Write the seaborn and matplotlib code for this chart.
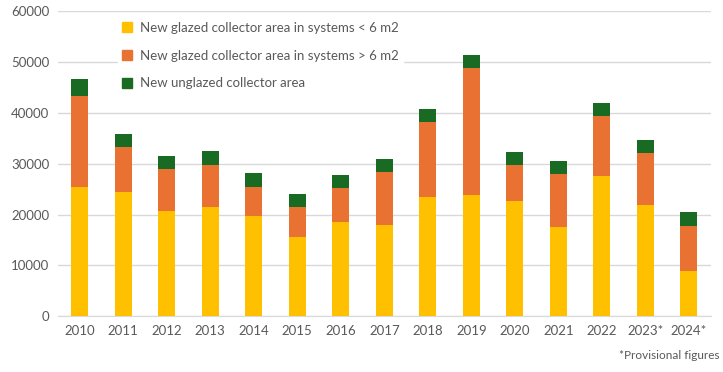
import seaborn as sns
import pandas as pd
import matplotlib.pyplot as plt
from matplotlib.patches import Patch

years = ["2010", "2011", "2012", "2013", "2014", "2015", "2016", "2017",
         "2018", "2019", "2020", "2021", "2022", "2023*", "2024*"]
small_glazed = [25400, 24400, 20700, 21400, 19700, 15500, 18500, 17900,
                23400, 23800, 22600, 17500, 27500, 21800, 8900]
large_glazed = [17900, 8850, 8250, 8300, 5700, 5900, 6700, 10400,
                14800, 25000, 7100, 10400, 11850, 10250, 8800]
unglazed = [3350, 2550, 2550, 2750, 2750, 2550, 2550, 2550,
            2550, 2550, 2550, 2550, 2550, 2550, 2750]

labels = ["New glazed collector area in systems < 6 m2",
          "New glazed collector area in systems > 6 m2",
          "New unglazed collector area"]
colors = ["#FFC000", "#E97132", "#196B24"]

df = pd.DataFrame({"year": years, "small": small_glazed,
                   "large": large_glazed, "unglazed": unglazed})
df["mid"] = df["small"] + df["large"]
df["total"] = df["mid"] + df["unglazed"]

sns.set_style("white")
plt.rcParams["font.family"] = ["Lato", "DejaVu Sans"]

fig = plt.figure(figsize=(7.23, 3.72), dpi=100)
ax = fig.add_axes([0.08, 0.15, 0.903, 0.82])

# overlay cumulative heights, tallest first
for col, c in zip(["total", "mid", "small"], colors[::-1]):
    sns.barplot(data=df, x="year", y=col, color=c, width=0.39,
                saturation=1, linewidth=0, edgecolor=c, ax=ax, zorder=3)

ax.set_ylim(0, 60000)
ax.set_yticks(range(0, 60001, 10000))
ax.yaxis.grid(True, color="#D9D9D9", linewidth=1, zorder=0)
ax.set_axisbelow(True)
ax.set_xlabel("")
ax.set_ylabel("")
for s in ["top", "right", "left"]:
    ax.spines[s].set_visible(False)
ax.spines["bottom"].set_color("#D9D9D9")
ax.tick_params(axis="both", length=0, labelsize=9.5, colors="#595959", pad=6)

handles = [Patch(color=c) for c in colors]
leg = ax.legend(handles, labels, loc="upper left", bbox_to_anchor=(0.082, 1.0),
                frameon=True, fontsize=9.5, handlelength=0.8, handleheight=0.8,
                labelspacing=1.2, handletextpad=0.6, borderpad=0.3,
                labelcolor="#595959")
leg.get_frame().set_facecolor("white")
leg.get_frame().set_edgecolor("white")
leg.get_frame().set_alpha(1)
leg.set_zorder(5)

fig.text(0.995, 0.03, "*Provisional figures", ha="right", va="bottom",
         fontsize=8.5, color="#595959")

fig.savefig("out.png", dpi=100)
